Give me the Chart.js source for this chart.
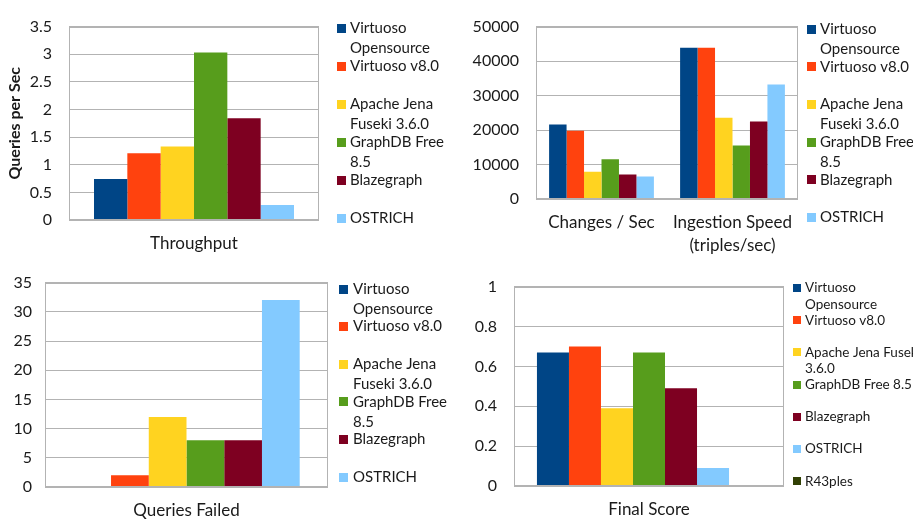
<!DOCTYPE html>
<html>
<head>
<meta charset="utf-8">
<script src="https://cdn.jsdelivr.net/npm/chart.js@4.4.0/dist/chart.umd.min.js"></script>
<style>
  html, body { margin: 0; padding: 0; background: #fff; }
  #wrap { position: relative; width: 913px; height: 519px; overflow: hidden; }
  canvas { position: absolute; display: block; }
</style>
</head>
<body>
<div id="wrap">
  <canvas id="c1" width="460" height="260" style="left:0;top:0"></canvas>
  <canvas id="c2" width="453" height="260" style="left:460px;top:0"></canvas>
  <canvas id="c3" width="460" height="259" style="left:0;top:260px"></canvas>
  <canvas id="c4" width="453" height="259" style="left:460px;top:260px"></canvas>
</div>
<script>
// Triple stores compared in the benchmark
const systems = ['Virtuoso Opensource', 'Virtuoso v8.0', 'Apache Jena Fuseki 3.6.0', 'GraphDB Free 8.5', 'Blazegraph', 'OSTRICH'];
const scoreSystems = ['Virtuoso Opensource', 'Virtuoso v8.0', 'Apache Jena Fuseki 3.6.0', 'GraphDB Free 8.5', 'Blazegraph', 'OSTRICH', 'R43ples'];
const systemColors = ['#004586', '#ff420e', '#ffd320', '#579d1c', '#7e0021', '#83caff', '#314004'];

// Legend text, wrapped the way each panel lays it out
const legendLinesWide = [['Virtuoso', 'Opensource'], ['Virtuoso v8.0'], ['Apache Jena', 'Fuseki 3.6.0'], ['GraphDB Free', '8.5'], ['Blazegraph'], ['OSTRICH']];
const legendLinesScore = [['Virtuoso', 'Opensource'], ['Virtuoso v8.0'], ['Apache Jena Fuseki', '3.6.0'], ['GraphDB Free 8.5'], ['Blazegraph'], ['OSTRICH'], ['R43ples']];

// Panel 1: throughput
const throughputCategories = ['Throughput'];
const throughputValues = [0.74, 1.21, 1.33, 3.03, 1.84, 0.27];
const throughputTicks = { max: 3.5, step: 0.5 };

// Panel 2: update and ingestion speed
const speedCategories = ['Changes / Sec', ['Ingestion Speed', '(triples/sec)']];
const changesPerSec = [21600, 19800, 7900, 11500, 7100, 6500];
const ingestionSpeed = [43900, 43900, 23600, 15500, 22500, 33200];
const speedTicks = { max: 50000, step: 10000 };

// Panel 3: failed queries
const failedCategories = ['Queries Failed'];
const queriesFailed = [0, 2, 12, 8, 8, 32];
const failedTicks = { max: 35, step: 5 };

// Panel 4: final score
const scoreCategories = ['Final Score'];
const finalScore = [0.67, 0.70, 0.39, 0.67, 0.49, 0.09, 0];
const scoreTicks = { max: 1, step: 0.2 };

const FONT = 'Lato, "Open Sans", sans-serif';
const TEXT = '#1a1a1a';
const GRID = '#b3b3b3';

// Grey frame round the plotting area
const frame = {
  id: 'frame',
  afterDatasetsDraw(chart) {
    const a = chart.chartArea, ctx = chart.ctx;
    ctx.save();
    ctx.strokeStyle = GRID;
    ctx.lineWidth = 1;
    ctx.strokeRect(Math.round(a.left) + 0.5, Math.round(a.top) + 0.5,
                   Math.round(a.right - a.left) - 1, Math.round(a.bottom - a.top) - 1);
    ctx.restore();
  }
};

// Legend at the side: one square per dataset, text possibly on two lines
const sideLegend = {
  id: 'sideLegend',
  afterDraw(chart, args, o) {
    const ctx = chart.ctx;
    ctx.save();
    ctx.font = o.font;
    ctx.textBaseline = 'middle';
    ctx.textAlign = 'left';
    chart.data.datasets.forEach((ds, i) => {
      const y = o.top + i * o.step;
      ctx.fillStyle = ds.backgroundColor;
      ctx.fillRect(o.boxX, Math.round(y - o.box / 2), o.box, o.box);
      ctx.fillStyle = TEXT;
      o.lines[i].forEach((t, j) => ctx.fillText(t, o.textX, y + j * o.lineGap));
    });
    ctx.restore();
  }
};

function makeDatasets(names, valuesPerSystem) {
  return names.map((n, i) => ({
    label: n,
    data: valuesPerSystem(i),
    backgroundColor: systemColors[i],
    borderWidth: 0,
    barPercentage: 1
  }));
}

function fmt(v) { return String(Math.round(v * 100) / 100); }

function buildChart(id, cfg) {
  return new Chart(document.getElementById(id), {
    type: 'bar',
    data: { labels: cfg.labels, datasets: cfg.datasets },
    options: {
      responsive: false,
      animation: false,
      devicePixelRatio: 1,
      categoryPercentage: cfg.catPct,
      layout: { padding: cfg.padding },
      plugins: {
        legend: { display: false },
        tooltip: { enabled: false },
        sideLegend: cfg.legend
      },
      scales: {
        x: {
          grid: { display: false, drawTicks: false },
          border: { display: false },
          ticks: { color: TEXT, font: { family: FONT, size: 17, lineHeight: 1.35 }, padding: cfg.xPad, maxRotation: 0, autoSkip: false },
          afterFit(s) { s.height = cfg.xHeight; }
        },
        y: {
          min: 0,
          max: cfg.ticks.max,
          grid: { color: GRID, drawTicks: false, lineWidth: 1 },
          border: { display: false },
          ticks: { stepSize: cfg.ticks.step, color: TEXT, font: { family: FONT, size: 16 }, padding: cfg.yPad, callback: fmt },
          title: cfg.yTitle || { display: false },
          afterFit(s) { s.width = cfg.yWidth; }
        }
      }
    },
    plugins: [frame, sideLegend]
  });
}

const legendWide = { font: '15px ' + FONT, box: 9, lineGap: 20 };

buildChart('c1', {
  labels: throughputCategories,
  datasets: makeDatasets(systems, i => [throughputValues[i]]),
  ticks: throughputTicks,
  catPct: 0.8,
  padding: { left: 0, top: 20, right: 141, bottom: 0 },
  yWidth: 69, xHeight: 40, yPad: 17, xPad: 12,
  yTitle: { display: true, text: 'Queries per Sec', color: TEXT, font: { family: FONT, size: 16, weight: 'bold' }, padding: { top: 5, bottom: 0 } },
  legend: Object.assign({ lines: legendLinesWide, boxX: 337, textX: 350, top: 28, step: 38 }, legendWide)
});

buildChart('c2', {
  labels: speedCategories,
  datasets: makeDatasets(systems, i => [changesPerSec[i], ingestionSpeed[i]]),
  ticks: speedTicks,
  catPct: 0.8,
  padding: { left: 0, top: 21, right: 115, bottom: 0 },
  yWidth: 76, xHeight: 61, yPad: 17, xPad: 12,
  legend: Object.assign({ lines: legendLinesWide, boxX: 347, textX: 360, top: 29, step: 37.7 }, legendWide)
});

buildChart('c3', {
  labels: failedCategories,
  datasets: makeDatasets(systems, i => [queriesFailed[i]]),
  ticks: failedTicks,
  catPct: 0.8,
  padding: { left: 0, top: 20, right: 132, bottom: 0 },
  yWidth: 45, xHeight: 32, yPad: 13, xPad: 12,
  legend: Object.assign({ lines: legendLinesWide, boxX: 339, textX: 353, top: 29, step: 37.6 }, legendWide)
});

buildChart('c4', {
  labels: scoreCategories,
  datasets: makeDatasets(scoreSystems, i => [finalScore[i]]),
  ticks: scoreTicks,
  catPct: 0.83,
  padding: { left: 0, top: 21, right: 129, bottom: 0 },
  yWidth: 54, xHeight: 33, yPad: 17, xPad: 12,
  legend: { lines: legendLinesScore, font: '13.5px ' + FONT, box: 8, lineGap: 16.7, boxX: 333, textX: 345, top: 28, step: 32.2 }
});
</script>
</body>
</html>
